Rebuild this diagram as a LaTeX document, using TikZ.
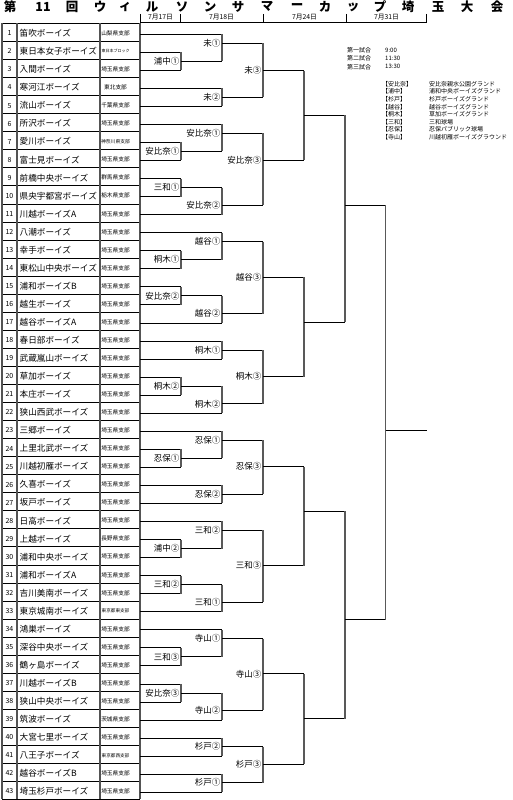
\documentclass[tikz,border=0pt]{standalone}
\usepackage{fontspec}
\setmainfont{Noto Sans CJK JP}
\tikzset{
  hl/.style={line width=0.8pt, black},
  vl/.style={line width=1.3pt, gray!70!black},
  rowline/.style={line width=0.6pt, black},
  colline/.style={line width=1.4pt, gray!65!black},
  ttl/.style={inner sep=0pt, font=\bfseries\fontsize{12.5}{13}\selectfont},
  datetxt/.style={inner sep=0pt, font=\fontsize{6.8}{7.5}\selectfont},
  teamtxt/.style={inner sep=0pt, anchor=west, font=\fontsize{8.6}{9}\selectfont},
  numtxt/.style={inner sep=0pt, font=\fontsize{7}{8}\selectfont},
  rlab/.style={inner sep=0pt, anchor=east, font=\fontsize{8.5}{9}\selectfont},
  legtxt/.style={inner sep=0pt, anchor=west, font=\fontsize{6}{7}\selectfont}
}
% bracket: #1 name, #2 xa, #3 ya, #4 xb, #5 yb, #6 xout, #7 ylabel, #8 label
\newcommand\bkt[8]{%
  \coordinate (#1a) at (#2,#3); \coordinate (#1b) at (#4,#5);
  \coordinate (#1ta) at (#6,#3); \coordinate (#1tb) at (#6,#5);
  \draw[hl] (#1a) -- (#1ta); \draw[hl] (#1b) -- (#1tb);
  \draw[vl] (#1ta) -- (#1tb);
  \node[rlab] (#1L) at (#6-1.5,#7) {#8};}
\newcommand\bkn[6]{%
  \coordinate (#1a) at (#2,#3); \coordinate (#1b) at (#4,#5);
  \coordinate (#1ta) at (#6,#3); \coordinate (#1tb) at (#6,#5);
  \draw[hl] (#1a) -- (#1ta); \draw[hl] (#1b) -- (#1tb);
  \draw[vl] (#1ta) -- (#1tb);}
\begin{document}
\begin{tikzpicture}[x=1pt,y=-1pt]
\useasboundingbox (0,0) rectangle (513,800);
\fill[white] (0,0) rectangle (513,800);
% title
\foreach \x/\c [count=\k] in {10/第,43/11,72/回,100/ウ,125/ィ,152/ル,182/ソ,210/ン,238/サ,267/マ,297/ー,325/カ,353/ッ,380/プ,408/埼,438/玉,467/大,497/会}
  \node[ttl] (T\k) at (\x,6.9) {\c};
% header
\foreach \x [count=\k] in {140,180.5,263,346.5,426.5}
  \draw[line width=1pt] (\x,14) -- (\x,22.8) coordinate (H\k);
\draw[line width=0.8pt] (H1) -- (H5);
\node[datetxt] (D1) at (160.5,17.6) {7月17日};
\node[datetxt] (D2) at (221.5,17.6) {7月18日};
\node[datetxt] (D3) at (304.5,17.6) {7月24日};
\node[datetxt] (D4) at (386.5,17.6) {7月31日};
% table
\foreach \k in {0,...,43}
  \draw[rowline] (2,23.3+\k*18.05) -- (140,23.3+\k*18.05);
\foreach \x in {2,17,100,140}
  \draw[colline] (\x,23.3) -- (\x,799.4);
\foreach \i/\t/\b/\s in {
1/笛吹ボーイズ/山梨県支部/5.7,
2/東日本女子ボーイズ/東日本ブロック/4,
3/入間ボーイズ/埼玉県支部/5.7,
4/寒河江ボーイズ/東北支部/5.7,
5/流山ボーイズ/千葉県支部/5.7,
6/所沢ボーイズ/埼玉県支部/5.7,
7/愛川ボーイズ/神奈川県支部/4.8,
8/富士見ボーイズ/埼玉県支部/5.7,
9/前橋中央ボーイズ/群馬県支部/5.7,
10/県央宇都宮ボーイズ/栃木県支部/5.7,
11/川越ボーイズA/埼玉県支部/5.7,
12/八潮ボーイズ/埼玉県支部/5.7,
13/幸手ボーイズ/埼玉県支部/5.7,
14/東松山中央ボーイズ/埼玉県支部/5.7,
15/浦和ボーイズB/埼玉県支部/5.7,
16/越生ボーイズ/埼玉県支部/5.7,
17/越谷ボーイズA/埼玉県支部/5.7,
18/春日部ボーイズ/埼玉県支部/5.7,
19/武蔵嵐山ボーイズ/埼玉県支部/5.7,
20/草加ボーイズ/埼玉県支部/5.7,
21/本庄ボーイズ/埼玉県支部/5.7,
22/狭山西武ボーイズ/埼玉県支部/5.7,
23/三郷ボーイズ/埼玉県支部/5.7,
24/上里北武ボーイズ/埼玉県支部/5.7,
25/川越初雁ボーイズ/埼玉県支部/5.7,
26/久喜ボーイズ/埼玉県支部/5.7,
27/坂戸ボーイズ/埼玉県支部/5.7,
28/日高ボーイズ/埼玉県支部/5.7,
29/上越ボーイズ/長野県支部/5.7,
30/浦和中央ボーイズ/埼玉県支部/5.7,
31/浦和ボーイズA/埼玉県支部/5.7,
32/吉川美南ボーイズ/埼玉県支部/5.7,
33/東京城南ボーイズ/東京都東支部/4.6,
34/鴻巣ボーイズ/埼玉県支部/5.7,
35/深谷中央ボーイズ/埼玉県支部/5.7,
36/鶴ヶ島ボーイズ/埼玉県支部/5.7,
37/川越ボーイズB/埼玉県支部/5.7,
38/狭山中央ボーイズ/埼玉県支部/5.7,
39/筑波ボーイズ/茨城県支部/5.7,
40/大宮七里ボーイズ/埼玉県支部/5.7,
41/八王子ボーイズ/東京都西支部/4.6,
42/越谷ボーイズB/埼玉県支部/5.7,
43/埼玉杉戸ボーイズ/埼玉県支部/5.7}{
  \node[numtxt] (n\i) at (9.5,15.3+\i*18.05) {\i};
  \node[teamtxt] (t\i) at (19.5,15.3+\i*18.05) {\t};
  \node[inner sep=0pt, font=\fontsize{\s}{\s}\selectfont] (b\i) at (115.5,15.3+\i*18.05) {\b};
}
% round 1 (x=181)
\bkt{A1}{140}{52.175}{140}{70.225}{181}{61.2}{浦中①}
\bkt{A2}{140}{142.425}{140}{160.475}{181}{151.45}{安比奈①}
\bkt{A3}{140}{178.525}{140}{196.575}{181}{187.55}{三和①}
\bkt{A4}{140}{250.725}{140}{268.775}{181}{259.75}{桐木①}
\bkt{A5}{140}{286.825}{140}{304.875}{181}{295.85}{安比奈②}
\bkt{A6}{140}{377.075}{140}{395.125}{181}{386.1}{桐木②}
\bkt{A7}{140}{449.275}{140}{467.325}{181}{458.3}{忍保①}
\bkt{A8}{140}{539.525}{140}{557.575}{181}{548.55}{浦中②}
\bkt{A9}{140}{575.625}{140}{593.675}{181}{584.65}{三和②}
\bkt{A10}{140}{647.825}{140}{665.875}{181}{656.85}{三和③}
\bkt{A11}{140}{683.925}{140}{701.975}{181}{692.95}{安比奈③}
% round 2 (x=222)
\bkt{B1}{140}{34.125}{181}{61.2}{222}{43.2}{未①}
\bkt{B2}{140}{88.275}{140}{106.325}{222}{97.3}{未②}
\bkt{B3}{140}{124.375}{181}{151.45}{222}{133.4}{安比奈①}
\bkt{B4}{181}{187.55}{140}{214.625}{222}{205}{安比奈②}
\bkt{B5}{140}{232.675}{181}{259.75}{222}{241.5}{越谷①}
\bkt{B6}{181}{295.85}{140}{322.925}{222}{313.6}{越谷②}
\bkt{B7}{140}{340.975}{140}{359.025}{222}{350}{桐木①}
\bkt{B8}{181}{386.1}{140}{413.175}{222}{403.8}{桐木②}
\bkt{B9}{140}{431.225}{181}{458.3}{222}{440}{忍保①}
\bkt{B10}{140}{485.375}{140}{503.425}{222}{494}{忍保②}
\bkt{B11}{140}{521.475}{181}{548.55}{222}{530.3}{三和②}
\bkt{B12}{181}{584.65}{140}{611.725}{222}{602}{三和①}
\bkt{B13}{140}{629.775}{181}{656.85}{222}{638.5}{寺山①}
\bkt{B14}{181}{692.95}{140}{720.025}{222}{710.3}{寺山②}
\bkt{B15}{140}{738.075}{140}{756.125}{222}{746.5}{杉戸②}
\bkt{B16}{140}{774.175}{140}{792.225}{222}{782.5}{杉戸①}
% round 3 (x=263)
\bkt{C1}{222}{43.2}{222}{97.3}{263}{70.7}{未③}
\bkt{C2}{222}{133.4}{222}{205}{263}{160.2}{安比奈③}
\bkt{C3}{222}{241.5}{222}{313.6}{263}{277}{越谷③}
\bkt{C4}{222}{350}{222}{403.8}{263}{376.5}{桐木③}
\bkt{C5}{222}{440}{222}{494}{263}{466.5}{忍保③}
\bkt{C6}{222}{530.3}{222}{602}{263}{565.5}{三和③}
\bkt{C7}{222}{638.5}{222}{710.3}{263}{673.8}{寺山③}
\bkt{C8}{222}{746.5}{222}{782.5}{263}{764}{杉戸③}
% round 4 (x=304)
\bkn{E1}{263}{70.7}{263}{160.2}{304}
\bkn{E2}{263}{277}{263}{376.5}{304}
\bkn{E3}{263}{466.5}{263}{565.5}{304}
\bkn{E4}{263}{673.8}{263}{764}{304}
% round 5 (x=345)
\bkn{G1}{304}{115.2}{304}{322}{345}
\bkn{G2}{304}{511.3}{304}{718.5}{345}
% round 6 (x=385)
\bkn{K1}{345}{205}{345}{619.5}{385.5}
\coordinate (F1) at (385.5,430);
\coordinate (F2) at (426.7,430);
\draw[hl] (F1) -- (F2);
% legend
\node[legtxt] (L1) at (347,50) {第一試合};
\node[legtxt] (L2) at (347,58.3) {第二試合};
\node[legtxt] (L3) at (347,66.8) {第三試合};
\node[legtxt] (M1) at (385,50) {9:00};
\node[legtxt] (M2) at (385,58.3) {11:30};
\node[legtxt] (M3) at (385,66.8) {13:30};
\foreach \y/\a/\b [count=\k] in {
84/【安比奈】/安比奈親水公園グランド,
91.6/【浦中】/浦和中央ボーイズグランド,
99.2/【杉戸】/杉戸ボーイズグランド,
106.8/【越谷】/越谷ボーイズグランド,
114.4/【桐木】/草加ボーイズグランド,
122/【三和】/三和球場,
129.6/【忍保】/忍保パブリック球場,
137.2/【寺山】/川越初雁ボーイズグラウンド}{
  \node[legtxt] (P\k) at (382,\y) {\a};
  \node[legtxt] (Q\k) at (429,\y) {\b};
}
\end{tikzpicture}
\end{document}
